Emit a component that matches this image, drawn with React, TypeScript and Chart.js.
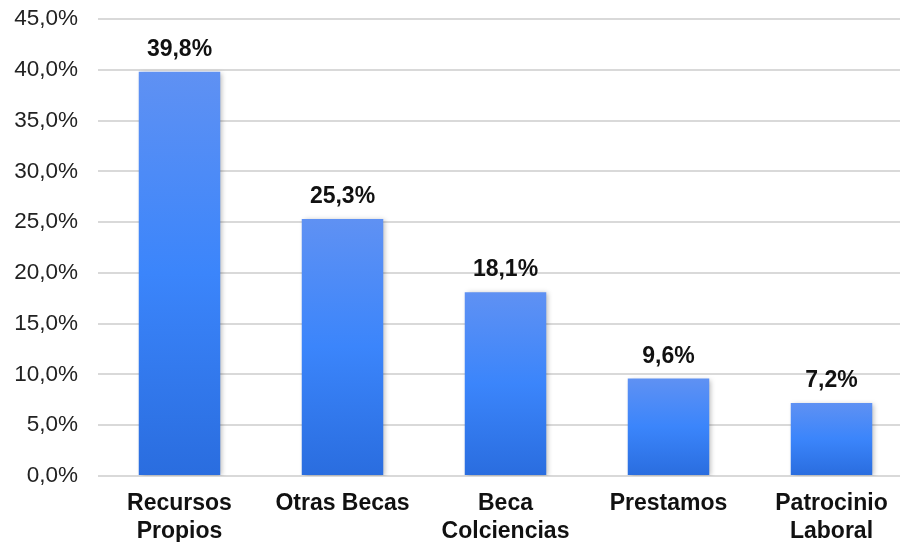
import React, { useEffect, useRef } from "react";
import { Chart, registerables } from "chart.js";

Chart.register(...registerables);

const categories: string[][] = [
  ["Recursos", "Propios"],
  ["Otras Becas"],
  ["Beca", "Colciencias"],
  ["Prestamos"],
  ["Patrocinio", "Laboral"],
];
const values: number[] = [39.8, 25.3, 18.1, 9.6, 7.2];
const yMin = 0;
const yMax = 45;
const yStep = 5;

const FONT = '"Liberation Sans", Arial, Helvetica, sans-serif';

const fmt = (v: number) => v.toFixed(1).replace(".", ",") + "%";

const barStylePlugin = {
  id: "barStyle",
  beforeDatasetsDraw(chart: any) {
    const ctx = chart.ctx;
    const meta = chart.getDatasetMeta(0);
    meta.data.forEach((bar: any) => {
      const g = ctx.createLinearGradient(0, bar.y, 0, bar.base);
      g.addColorStop(0, "#5f91f3");
      g.addColorStop(0.5, "#3b85fb");
      g.addColorStop(1, "#2a6ddf");
      bar.options = Object.assign({}, bar.options, { backgroundColor: g });
    });
    ctx.save();
    ctx.shadowColor = "rgba(0,0,0,0.28)";
    ctx.shadowBlur = 5;
    ctx.shadowOffsetX = 2;
    ctx.shadowOffsetY = 1;
  },
  afterDatasetsDraw(chart: any) {
    const ctx = chart.ctx;
    ctx.restore();
    const meta = chart.getDatasetMeta(0);
    ctx.save();
    ctx.font = `bold 23px ${FONT}`;
    ctx.fillStyle = "#111";
    ctx.textAlign = "center";
    ctx.textBaseline = "alphabetic";
    meta.data.forEach((bar: any, i: number) => {
      ctx.fillText(fmt(values[i]), bar.x, bar.y - 16);
    });
    ctx.restore();
  },
};

export default function App() {
  const ref = useRef<HTMLCanvasElement>(null);
  useEffect(() => {
    if (!ref.current) return;
    const chart = new Chart(ref.current, {
      type: "bar",
      data: {
        labels: categories,
        datasets: [
          {
            data: values,
            backgroundColor: "#3b85fb",
            borderWidth: 0,
            barPercentage: 0.5,
            categoryPercentage: 1,
          },
        ],
      },
      options: {
        animation: false,
        responsive: false,
        devicePixelRatio: 1,
        layout: { padding: { top: 19, left: 0, right: 0, bottom: 0 } },
        plugins: { legend: { display: false }, tooltip: { enabled: false } },
        scales: {
          x: {
            grid: { display: false, drawTicks: false },
            border: { display: false },
            ticks: {
              color: "#111",
              font: { family: FONT, size: 23, weight: "bold", lineHeight: 1.25 },
              padding: 13,
              maxRotation: 0,
              autoSkip: false,
            },
            afterFit: (s: any) => {
              s.height = 66;
              s.paddingLeft = 0;
              s.paddingRight = 0;
            },
          },
          y: {
            min: yMin,
            max: yMax,
            grid: { color: "#d9d9d9", lineWidth: 2, drawTicks: false },
            border: { display: false },
            ticks: {
              stepSize: yStep,
              color: "#222",
              font: { family: FONT, size: 22.5 },
              padding: 20,
              callback: (v: any) => fmt(Number(v)),
            },
            afterFit: (s: any) => {
              s.width = 98;
              s.paddingTop = 0;
              s.paddingBottom = 0;
            },
          },
        },
      },
      plugins: [barStylePlugin],
    });
    return () => chart.destroy();
  }, []);
  return (
    <div
      style={{
        position: "fixed",
        left: 0,
        top: 0,
        width: 900,
        height: 542,
        overflow: "hidden",
        background: "#fff",
      }}
    >
      <canvas ref={ref} width={913} height={542} style={{ display: "block" }} />
    </div>
  );
}
